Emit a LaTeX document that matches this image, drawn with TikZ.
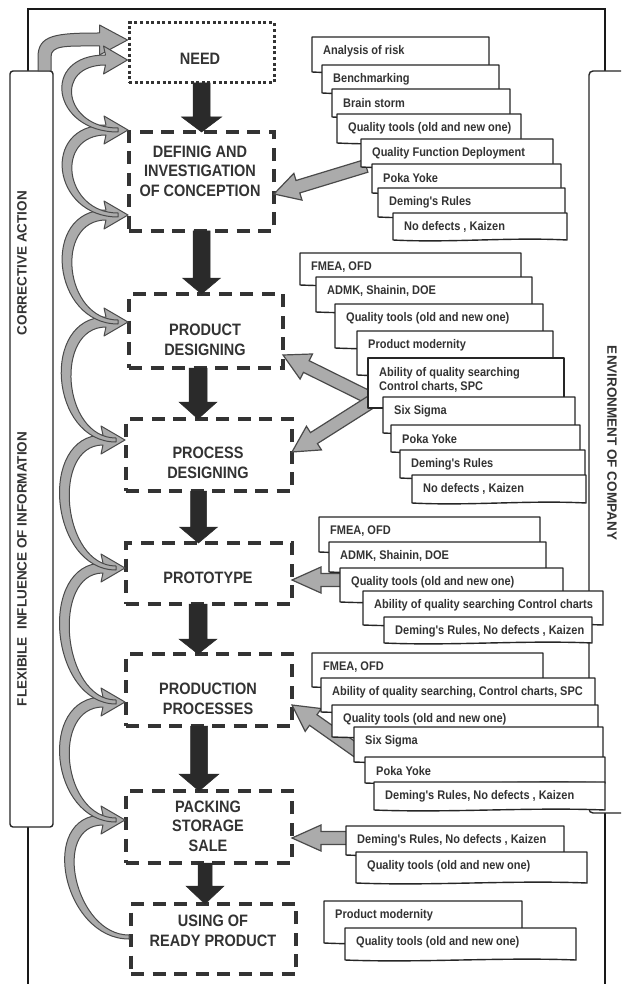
\documentclass[tikz,border=0pt]{standalone}
\usepackage{fontspec}
\setmainfont{Liberation Sans}
\newfontfamily\nfont{Liberation Sans}[FakeStretch=0.88]
\usetikzlibrary{calc}
\definecolor{ink}{HTML}{333333}
\definecolor{gfill}{HTML}{ABABAB}
\definecolor{gline}{HTML}{4A4A4A}
\definecolor{dark}{HTML}{2A2A2A}
\tikzset{
  stagebox/.style={draw=ink, line width=3.5pt, dash pattern=on 13pt off 8.5pt, inner sep=0pt, outer sep=0pt},
  needbox/.style={draw=ink, line width=3pt, dash pattern=on 3pt off 2.6pt, inner sep=0pt, outer sep=0pt},
  stagetext/.style={text=ink, font=\nfont\bfseries\fontsize{16.5}{19.5}\selectfont, align=center, inner sep=0pt},
  sidetext/.style={text=ink, font=\bfseries\fontsize{13.5}{16}\selectfont, inner sep=0pt},
  cardtext/.style={text=ink, font=\nfont\bfseries\fontsize{12.5}{14}\selectfont, anchor=west, inner sep=0pt, align=left},
  cardshape/.style={draw=black!85, fill=white, line width=1.4pt, line join=round},
  garrow/.style={fill=gfill, draw=gline, line width=1pt, line join=round},
  barrow/.style={fill=dark, draw=dark, line width=0.5pt},
  sarrow/.style={fill=gfill, draw=gline, line width=1.2pt, line join=miter},
  frameline/.style={draw=black!90, line width=2pt},
  colbox/.style={draw=black!85, line width=1.4pt, fill=white},
}
% block arrow: tail, tip, half shaft, half head, head length, style
\newcommand\blockarrow[6]{%
  \coordinate (bah) at ($(#2)!#5!(#1)$);
  \path[#6] ($(#1)!#3!90:(#2)$) -- ($(bah)!#3!90:(#2)$) -- ($(bah)!#4!90:(#2)$) -- (#2)
     -- ($(bah)!#4!-90:(#2)$) -- ($(bah)!#3!-90:(#2)$) -- ($(#1)!#3!-90:(#2)$) -- cycle;
}
% curved grey arrow on the left: tail, tip
\newcommand\garc[2]{%
  \path[garrow] ($(#1)+(0,2)$) .. controls ($(#1)+(-66,2)$) and ($(#2)+(-88,-5)$) .. ($(#2)+(-22,-5)$)
     -- ($(#2)+(-24,-14)$) -- (#2) -- ($(#2)+(-24,14)$) -- ($(#2)+(-22,5)$)
     .. controls ($(#2)+(-74,5)$) and ($(#1)+(-54,-2)$) .. ($(#1)+(0,-2)$) -- cycle;
}
% card: name, L, T, R, B, text
\newcommand\card[6]{%
  \path[cardshape] (#2,#5) -- (#2,#3) -- (#4,#3) -- (#4,#5)
     .. controls ($(#4,#5)!0.33!(#2,#5)+(0,-3)$) and ($(#4,#5)!0.67!(#2,#5)+(0,3)$) .. (#2,#5) -- cycle;
  \node[cardtext] (#1) at ($(#2,#3)+(11,14)$) {#6};
}
\begin{document}
\begin{tikzpicture}[x=1pt,y=-1pt]
\useasboundingbox (0,0) rectangle (621,984);
\clip (0,0) rectangle (621,984);
\fill[white] (0,0) rectangle (621,984);

% outer frame
\draw[frameline] (28,71) -- (28,9) -- (605,9) -- (605,71);
\draw[frameline] (28,827) -- (28,984);
\draw[frameline] (605,813) -- (605,984);

% left column
\draw[colbox, rounded corners=3pt] (10,71) rectangle (53,827);
\node[sidetext, rotate=90] (corr) at (22,263) {CORRECTIVE ACTION};
\node[sidetext, rotate=90] (flex) at (22,569) {FLEXIBILE\ \ INFLUENCE OF INFORMATION};

% right column
\draw[colbox, rounded corners=4pt] (640,71) -- (589,71) -- (589,813) -- (640,813);
\node[sidetext, rotate=-90] (env) at (612,443) {ENVIRONMENT OF COMPANY};

% stage boxes
\node[needbox, minimum width=145pt, minimum height=60pt] (need) at (201.5,53) {};
\node[stagebox, minimum width=145pt, minimum height=99pt] (def) at (201.5,181.5) {};
\node[stagebox, minimum width=154pt, minimum height=74pt] (prod) at (206,331) {};
\node[stagebox, minimum width=166pt, minimum height=72pt] (proc) at (209,455) {};
\node[stagebox, minimum width=166pt, minimum height=61pt] (proto) at (209,573.5) {};
\node[stagebox, minimum width=166pt, minimum height=72pt] (prodn) at (209,690) {};
\node[stagebox, minimum width=166pt, minimum height=72pt] (pack) at (209,827) {};
\node[stagebox, minimum width=165pt, minimum height=70pt] (use) at (213.5,939) {};

\node[stagetext] (needl) at (200,59) {NEED};
\node[stagetext] (defl) at (200,171) {DEFINIG AND\\INVESTIGATION\\OF CONCEPTION};
\node[stagetext] (prodl) at (205,340) {PRODUCT\\DESIGNING};
\node[stagetext] (procl) at (208,463) {PROCESS\\DESIGNING};
\node[stagetext] (protol) at (208,578) {PROTOTYPE};
\node[stagetext] (prodnl) at (208,699) {PRODUCTION\\PROCESSES};
\node[stagetext] (packl) at (208,826) {PACKING\\STORAGE\\SALE};
\node[stagetext] (usel) at (213,931) {USING OF\\READY PRODUCT};

% curved feedback arrows on the left
\coordinate (lct) at (44.5,71);
\coordinate (ta) at ($(need.north west)+(-1.5,17)$);
\path[garrow] ($(lct)+(-6.5,0)$) -- ($(lct)+(-6.5,-14)$) .. controls ($(lct)+(-6.5,-36)$) and ($(ta)+(-72,-7)$) .. ($(ta)+(-28,-7)$)
   -- ($(ta)+(-28,-15)$) -- (ta) -- ($(ta)+(-28,15)$) -- ($(ta)+(-28,6)$)
   .. controls ($(ta)+(-62,6)$) and ($(lct)+(6.5,-26)$) .. ($(lct)+(6.5,-14)$) -- ($(lct)+(6.5,0)$) -- cycle;

\coordinate (h1) at ($(need.west)+(-1.5,7)$);
\coordinate (h2) at ($(def.north west)+(-1,-2)$);
\coordinate (h3) at ($(def.south west)+(-1,-16)$);
\coordinate (h4) at ($(prod.west)+(-1,-9)$);
\coordinate (h5) at ($(proc.west)+(-1,-15)$);
\coordinate (h6) at ($(proto.west)+(-1,-5.5)$);
\coordinate (h7) at ($(prodn.west)+(-1,12)$);
\coordinate (h8) at ($(pack.west)+(-1,-7)$);
\coordinate (t1) at ($(h2)+(-10,0)$);
\coordinate (t2) at ($(h3)+(-10,0)$);
\coordinate (t3) at ($(h4)+(-10,0)$);
\coordinate (t4) at ($(h5)+(-9,0)$);
\coordinate (t5) at ($(h6)+(-9,0)$);
\coordinate (t6) at ($(h7)+(-9,0)$);
\coordinate (t7) at ($(h8)+(-9,0)$);
\coordinate (t8) at ($(use.west)+(-2,-2)$);
\garc{t8}{h8}
\garc{t7}{h7}
\garc{t6}{h6}
\garc{t5}{h5}
\garc{t4}{h4}
\garc{t3}{h3}
\garc{t2}{h2}
\garc{t1}{h1}

% black flow arrows
\blockarrow{need.south}{def.north}{8.5pt}{20pt}{15pt}{barrow}
\coordinate (b2t) at (def.south |- prod.north);
\blockarrow{def.south}{b2t}{8.5pt}{19pt}{16pt}{barrow}
\coordinate (b3s) at ($(prod.south)+(-8,0)$);
\coordinate (b3t) at (b3s |- proc.north);
\blockarrow{b3s}{b3t}{9pt}{19pt}{17pt}{barrow}
\coordinate (b4s) at ($(proc.south)+(-10.5,0)$);
\coordinate (b4t) at (b4s |- proto.north);
\blockarrow{b4s}{b4t}{8pt}{19pt}{16pt}{barrow}
\coordinate (b5s) at ($(proto.south)+(-11,0)$);
\coordinate (b5t) at (b5s |- prodn.north);
\blockarrow{b5s}{b5t}{9pt}{19pt}{15pt}{barrow}
\coordinate (b6s) at ($(prodn.south)+(-10,0)$);
\coordinate (b6t) at (b6s |- pack.north);
\blockarrow{b6s}{b6t}{8.5pt}{20pt}{17pt}{barrow}
\coordinate (b7s) at ($(pack.south)+(-4,0)$);
\coordinate (b7t) at (b7s |- use.north);
\blockarrow{b7s}{b7t}{7pt}{19pt}{18pt}{barrow}

% grey arrows from the tool stacks
\coordinate (s1) at (366,166);
\coordinate (e1) at ($(def.east)+(0,12.5)$);
\blockarrow{s1}{e1}{6.5pt}{14pt}{25pt}{sarrow}
\coordinate (s2) at (374,400);
\coordinate (e2) at ($(prod.east)+(0,24)$);
\blockarrow{s2}{e2}{6.5pt}{14pt}{26pt}{sarrow}
\coordinate (e3) at ($(proc.east)+(0,-3)$);
\blockarrow{s2}{e3}{6.5pt}{14pt}{26pt}{sarrow}
\coordinate (s4) at (345,580);
\coordinate (e4) at ($(proto.east)+(0,6.5)$);
\blockarrow{s4}{e4}{6.5pt}{13pt}{29pt}{sarrow}
\coordinate (s5) at (360,753);
\coordinate (e5) at ($(prodn.east)+(0,15)$);
\blockarrow{s5}{e5}{6.5pt}{14pt}{26pt}{sarrow}
\coordinate (s6) at (350,838);
\coordinate (e6) at ($(pack.east)+(0,11)$);
\blockarrow{s6}{e6}{6.5pt}{13pt}{29pt}{sarrow}

% stack 1
\card{a1}{312}{37}{489}{72}{Analysis of risk}
\card{a2}{322}{65}{499}{93}{Benchmarking}
\card{a3}{332}{89}{510}{117}{Brain storm}
\card{a4}{337}{114}{521}{143}{Quality tools (old and new one)}
\card{a5}{361}{139}{553}{167}{Quality Function Deployment}
\card{a6}{372}{164}{561}{193}{Poka Yoke}
\card{a7}{378}{188}{565}{217}{Deming's Rules}
\card{a8}{393}{213}{567}{240}{No defects , Kaizen}

% stack 2
\card{b1}{300}{253}{521}{285}{FMEA, OFD}
\card{b2}{316}{277}{532}{312}{ADMK, Shainin, DOE}
\card{b3}{335}{304}{543}{348}{Quality tools (old and new one)}
\card{b4}{357}{331}{553}{375}{Product modernity}
\path[cardshape] (368,408) -- (368,358) -- (564,358) -- (564,408) -- cycle;
\node[cardtext] (b5) at (379,380) {Ability of quality searching\\Control charts, SPC};
\card{b6}{383}{397}{575}{433}{Six Sigma}
\card{b7}{391}{425}{580}{452}{Poka Yoke}
\card{b8}{400}{450}{585}{478}{Deming's Rules}
\card{b9}{412}{475}{586}{503}{No defects , Kaizen}

% stack 3
\card{c1}{319}{517}{540}{552}{FMEA, OFD}
\card{c2}{329}{542}{546}{572}{ADMK, Shainin, DOE}
\card{c3}{340}{568}{563}{602}{Quality tools (old and new one)}
\card{c4}{363}{591}{603}{625}{Ability of quality searching Control charts}
\card{c5}{384}{617}{592}{643}{Deming's Rules, No defects , Kaizen}

% stack 4
\card{d1}{312}{653}{543}{687}{FMEA, OFD}
\card{d2}{321}{678}{595}{712}{Ability of quality searching, Control charts, SPC}
\card{d3}{332}{705}{598}{737}{Quality tools (old and new one)}
\card{d4}{354}{727}{603}{762}{Six Sigma}
\card{d5}{365}{757}{605}{783}{Poka Yoke}
\card{d6}{374}{782}{605}{810}{Deming's Rules, No defects , Kaizen}

% stack 5
\card{e1n}{346}{826}{564}{855}{Deming's Rules, No defects , Kaizen}
\card{e2n}{356}{852}{587}{883}{Quality tools (old and new one)}

% stack 6
\card{f1}{324}{901}{522}{943}{Product modernity}
\card{f2}{345}{928}{576}{960}{Quality tools (old and new one)}
\end{tikzpicture}
\end{document}
